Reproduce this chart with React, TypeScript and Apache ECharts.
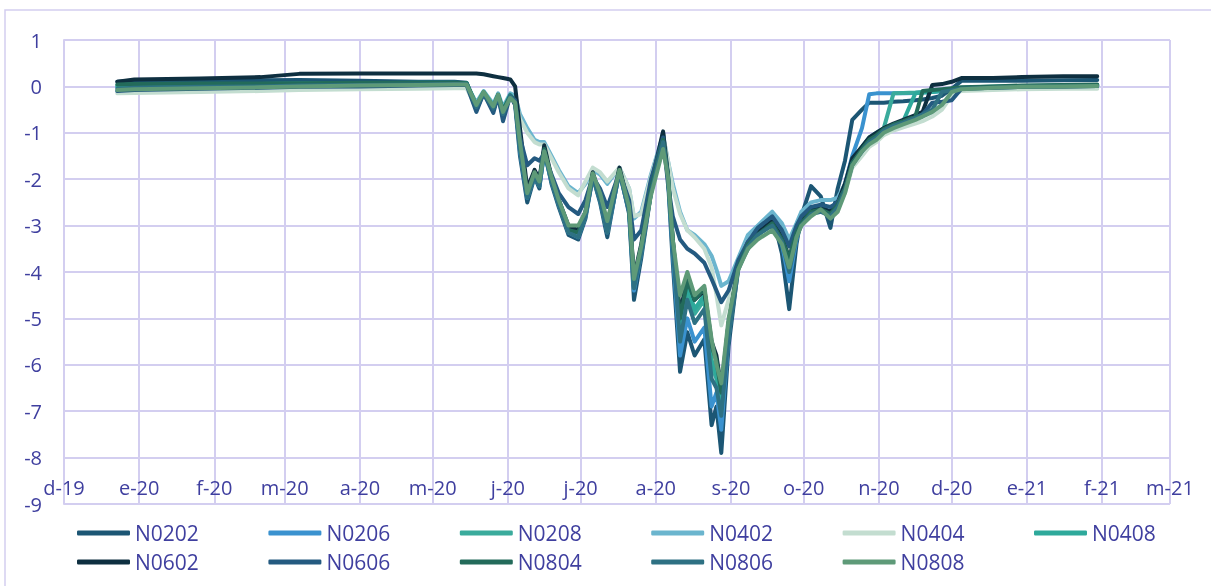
import React, { useEffect, useRef } from "react";
import * as echarts from "echarts";

const dates = [
  "2019-12-23", "2019-12-30", "2020-01-26", "2020-02-20", "2020-03-07", "2020-04-01", "2020-04-25", "2020-05-10", "2020-05-15",
  "2020-05-19", "2020-05-22", "2020-05-26", "2020-05-28", "2020-05-30", "2020-06-02", "2020-06-04", "2020-06-06", "2020-06-09", "2020-06-12", "2020-06-14",
  "2020-06-16", "2020-06-19", "2020-06-22", "2020-06-26", "2020-06-30", "2020-07-03", "2020-07-06", "2020-07-09", "2020-07-12", "2020-07-17",
  "2020-07-21", "2020-07-23", "2020-07-26", "2020-07-30", "2020-08-04", "2020-08-06", "2020-08-08", "2020-08-11", "2020-08-14", "2020-08-17",
  "2020-08-21", "2020-08-24", "2020-08-26", "2020-08-28", "2020-08-31", "2020-09-04", "2020-09-08", "2020-09-12", "2020-09-18", "2020-09-22",
  "2020-09-25", "2020-09-28", "2020-09-30", "2020-10-04", "2020-10-08", "2020-10-12", "2020-10-15", "2020-10-18", "2020-10-21", "2020-10-25",
  "2020-10-28", "2020-10-31", "2020-11-03", "2020-11-07", "2020-11-11", "2020-11-16", "2020-11-19", "2020-11-23", "2020-11-27", "2020-12-01",
  "2020-12-05", "2020-12-18", "2020-12-30", "2021-01-16", "2021-01-30",
];

const N0202 = [
  0.1, 0.12, 0.12, 0.13, 0.14, 0.12, 0.1, 0.1, 0.08,
  -0.5, -0.15, -0.5, -0.25, -0.65, -0.2, -0.4, -1.5, -2.5, -1.95, -2.2,
  -1.35, -2.1, -2.6, -3.2, -3.3, -2.85, -1.95, -2.5, -3.25, -1.8,
  -2.75, -4.6, -3.7, -2.3, -1.0, -2.0, -3.8, -6.15, -5.3, -5.8,
  -5.45, -7.3, -6.9, -7.9, -5.6, -3.9, -3.5, -3.2, -2.75, -3.6,
  -4.8, -3.4, -2.8, -2.15, -2.37, -3.05, -2.2, -1.6, -0.72, -0.5,
  -0.35, -0.35, -0.35, -0.33, -0.32, -0.3, -0.28, -0.25, -0.2, -0.05,
  0.12, 0.12, 0.12, 0.13, 0.14,
];
const N0206 = [
  -0.02, 0.0, 0.02, 0.03, 0.04, 0.05, 0.05, 0.05, 0.05,
  -0.45, -0.15, -0.45, -0.2, -0.55, -0.2, -0.35, -1.4, -2.4, -1.95, -2.15,
  -1.45, -2.05, -2.55, -3.15, -3.25, -2.8, -1.95, -2.45, -3.15, -1.85,
  -2.7, -4.4, -3.6, -2.2, -1.1, -1.95, -3.6, -5.8, -5.0, -5.5,
  -5.2, -6.9, -6.6, -7.4, -5.4, -3.8, -3.45, -3.15, -2.9, -3.4,
  -4.2, -3.3, -2.9, -2.6, -2.6, -2.7, -2.5, -2.1, -1.5, -0.9,
  -0.17, -0.15, -0.15, -0.15, -0.15, -0.14, -0.13, -0.12, -0.1, -0.06,
  -0.04, -0.02, 0.0, 0.01, 0.02,
];
const N0208 = [
  0.0, 0.02, 0.03, 0.04, 0.05, 0.06, 0.07, 0.07, 0.06,
  -0.4, -0.12, -0.42, -0.18, -0.5, -0.18, -0.32, -1.25, -2.3, -1.85, -2.05,
  -1.4, -2.0, -2.5, -3.1, -3.15, -2.75, -1.9, -2.4, -3.05, -1.8,
  -2.65, -4.3, -3.5, -2.3, -1.2, -1.9, -3.4, -5.3, -4.4, -4.9,
  -4.6, -6.0, -6.3, -7.0, -5.2, -3.9, -3.4, -3.15, -2.95, -3.3,
  -3.9, -3.2, -2.95, -2.7, -2.65, -2.75, -2.55, -2.15, -1.6, -1.3,
  -1.1, -1.0, -0.9, -0.15, -0.14, -0.13, -0.12, -0.1, -0.08, -0.05,
  -0.03, 0.0, 0.01, 0.02, 0.03,
];
const N0402 = [
  -0.1, -0.08, -0.05, -0.03, 0.0, 0.02, 0.03, 0.04, 0.04,
  -0.35, -0.1, -0.38, -0.15, -0.45, -0.15, -0.2, -0.6, -0.9, -1.15, -1.2,
  -1.2, -1.5, -1.8, -2.15, -2.3, -2.1, -1.8, -1.9, -2.1, -1.75,
  -2.2, -2.85, -2.7, -1.9, -1.05, -1.6, -2.1, -2.7, -3.1, -3.2,
  -3.4, -3.65, -3.95, -4.3, -4.2, -3.7, -3.2, -3.0, -2.7, -2.95,
  -3.3, -2.95, -2.7, -2.5, -2.45, -2.45, -2.4, -2.1, -1.6, -1.35,
  -1.2, -1.1, -0.97, -0.88, -0.8, -0.7, -0.65, -0.55, -0.4, -0.15,
  -0.05, -0.02, 0.0, 0.01, 0.02,
];
const N0404 = [
  -0.15, -0.14, -0.12, -0.1, -0.08, -0.06, -0.05, -0.04, -0.04,
  -0.45, -0.15, -0.45, -0.2, -0.5, -0.2, -0.25, -0.7, -1.0, -1.2, -1.25,
  -1.25, -1.55, -1.85, -2.2, -2.35, -2.05, -1.75, -1.85, -2.05, -1.75,
  -2.2, -2.8, -2.75, -1.95, -1.1, -1.6, -2.2, -2.75, -3.1, -3.25,
  -3.5, -3.9, -4.5, -5.15, -4.6, -3.8, -3.35, -3.15, -2.95, -3.2,
  -3.5, -3.1, -2.9, -2.75, -2.7, -2.75, -2.6, -2.3, -1.75, -1.5,
  -1.3, -1.2, -1.05, -0.95, -0.88, -0.8, -0.75, -0.65, -0.5, -0.2,
  -0.1, -0.08, -0.06, -0.05, -0.05,
];
const N0408 = [
  0.03, 0.04, 0.05, 0.05, 0.06, 0.07, 0.08, 0.08, 0.07,
  -0.4, -0.12, -0.42, -0.18, -0.5, -0.18, -0.3, -1.2, -2.25, -1.85, -2.0,
  -1.4, -1.95, -2.45, -3.05, -3.1, -2.7, -1.9, -2.35, -3.0, -1.8,
  -2.6, -4.25, -3.45, -2.3, -1.2, -1.9, -3.35, -5.2, -4.3, -4.8,
  -4.5, -5.9, -6.2, -6.9, -5.2, -3.9, -3.4, -3.2, -2.95, -3.3,
  -3.85, -3.2, -2.95, -2.7, -2.65, -2.75, -2.55, -2.2, -1.65, -1.35,
  -1.15, -1.05, -0.92, -0.83, -0.75, -0.15, -0.13, -0.12, -0.1, -0.06,
  -0.04, -0.02, 0.0, 0.02, 0.03,
];
const N0602 = [
  0.1, 0.15, 0.17, 0.2, 0.27, 0.28, 0.28, 0.28, 0.28,
  0.28, 0.26, 0.22, 0.2, 0.18, 0.15, 0.0, -0.9, -2.2, -1.8, -2.0,
  -1.27, -1.95, -2.45, -3.0, -3.1, -2.7, -1.85, -2.35, -3.0, -1.75,
  -2.6, -4.1, -3.4, -2.1, -0.97, -1.9, -3.3, -4.9, -4.1, -4.6,
  -4.4, -5.5, -5.8, -6.5, -5.1, -3.85, -3.35, -3.15, -2.9, -3.25,
  -3.7, -3.15, -2.9, -2.65, -2.6, -2.7, -2.5, -2.1, -1.55, -1.3,
  -1.1, -1.0, -0.9, -0.8, -0.72, -0.62, -0.55, 0.03, 0.05, 0.1,
  0.18, 0.18, 0.2, 0.22, 0.22,
];
const N0606 = [
  -0.1, -0.08, -0.05, -0.03, -0.01, 0.0, 0.02, 0.03, 0.03,
  -0.55, -0.15, -0.57, -0.2, -0.75, -0.2, -0.3, -1.1, -1.7, -1.55, -1.6,
  -1.45, -1.9, -2.3, -2.6, -2.75, -2.45, -1.95, -2.2, -2.6, -1.85,
  -2.45, -3.3, -3.1, -2.0, -1.1, -2.1, -2.8, -3.3, -3.5, -3.6,
  -3.8, -4.15, -4.4, -4.65, -4.4, -3.75, -3.35, -3.05, -2.8, -3.1,
  -3.45, -3.0, -2.8, -2.6, -2.55, -2.6, -2.5, -2.2, -1.65, -1.4,
  -1.2, -1.1, -0.95, -0.85, -0.78, -0.68, -0.6, -0.35, -0.33, -0.3,
  -0.05, -0.03, -0.01, 0.0, 0.01,
];
const N0804 = [
  0.04, 0.05, 0.06, 0.06, 0.07, 0.08, 0.08, 0.08, 0.07,
  -0.42, -0.13, -0.45, -0.18, -0.52, -0.2, -0.35, -1.3, -2.35, -1.9, -2.05,
  -1.35, -2.0, -2.5, -3.1, -3.15, -2.75, -1.9, -2.4, -3.05, -1.8,
  -2.65, -4.2, -3.45, -2.2, -1.15, -1.9, -3.3, -5.0, -4.2, -4.6,
  -4.35, -5.6, -5.9, -6.6, -5.1, -3.9, -3.4, -3.2, -2.95, -3.3,
  -3.7, -3.15, -2.95, -2.7, -2.65, -2.75, -2.55, -2.2, -1.65, -1.35,
  -1.15, -1.05, -0.92, -0.82, -0.75, -0.65, -0.1, -0.08, -0.06, -0.04,
  -0.02, 0.0, 0.02, 0.03, 0.04,
];
const N0806 = [
  -0.05, -0.03, -0.01, 0.0, 0.02, 0.03, 0.04, 0.05, 0.05,
  -0.45, -0.15, -0.48, -0.2, -0.6, -0.2, -0.35, -1.35, -2.4, -1.95, -2.15,
  -1.4, -2.05, -2.55, -3.15, -3.25, -2.8, -1.95, -2.45, -3.15, -1.85,
  -2.7, -4.35, -3.6, -2.3, -1.2, -1.95, -3.5, -5.5, -4.6, -5.1,
  -4.8, -6.3, -6.5, -7.1, -5.4, -3.95, -3.45, -3.2, -3.0, -3.35,
  -4.0, -3.25, -3.0, -2.75, -2.7, -2.8, -2.6, -2.25, -1.7, -1.4,
  -1.2, -1.1, -0.95, -0.85, -0.78, -0.68, -0.6, -0.5, -0.12, -0.08,
  -0.05, -0.03, -0.01, 0.0, 0.01,
];
const N0808 = [
  -0.08, -0.06, -0.04, -0.02, 0.0, 0.02, 0.03, 0.04, 0.04,
  -0.4, -0.12, -0.43, -0.18, -0.55, -0.25, -0.35, -1.2, -2.3, -1.85, -2.05,
  -1.4, -1.95, -2.45, -3.0, -3.0, -2.7, -1.87, -2.3, -2.9, -1.8,
  -2.6, -4.15, -3.45, -2.35, -1.35, -1.95, -3.3, -4.5, -4.0, -4.5,
  -4.3, -5.45, -6.0, -6.4, -5.0, -3.95, -3.5, -3.3, -3.1, -3.4,
  -3.9, -3.25, -3.0, -2.8, -2.65, -2.85, -2.7, -2.3, -1.7, -1.4,
  -1.25, -1.15, -1.0, -0.9, -0.82, -0.72, -0.65, -0.55, -0.4, -0.12,
  -0.06, -0.03, -0.01, 0.0, 0.01,
];

const seriesNames = ["N0202", "N0206", "N0208", "N0402", "N0404", "N0408", "N0602", "N0606", "N0804", "N0806", "N0808"];
const seriesValues = [N0202, N0206, N0208, N0402, N0404, N0408, N0602, N0606, N0804, N0806, N0808];
const seriesColors = ["#1C5674", "#3A92CF", "#3AAB9C", "#6BB5CE", "#C3DDD0", "#2EA99B", "#0E2F40", "#245A80", "#236B5A", "#2E7183", "#5E9A78"];

const monthLetters = ["e", "f", "m", "a", "m", "j", "j", "a", "s", "o", "n", "d"];
const xMin = "2019-12-01";
const xMax = "2021-03-01";
const yMin = -9;
const yMax = 1;

const TEXT = "#3F3F9F";
const GRID = "#D3CEF0";
const FONT = "Open Sans";

export default function App() {
  const ref = useRef<HTMLDivElement>(null);
  useEffect(() => {
    if (!ref.current) return;
    const chart = echarts.init(ref.current, null, { renderer: "svg" });
    const DAY = 86400000;
    const series = seriesNames.map((name, i) => ({
      name,
      type: "line",
      data: dates.map((d, j) => [d, seriesValues[i][j]]),
      showSymbol: false,
      symbol: "none",
      color: seriesColors[i],
      lineStyle: { width: 4, color: seriesColors[i], join: "round", cap: "round" },
      emphasis: { disabled: true },
    }));
    const legendCommon = {
      left: 77,
      width: 1130,
      orient: "horizontal",
      icon: "roundRect",
      itemWidth: 53,
      itemHeight: 5,
      itemGap: 23.4,
      padding: 0,
      selectedMode: false,
      textStyle: { color: TEXT, fontSize: 21, fontFamily: FONT, width: 110, lineHeight: 24 },
    };
    chart.setOption({
      animation: false,
      textStyle: { fontFamily: FONT },
      graphic: [
        {
          type: "rect",
          silent: true,
          shape: { x: 5, y: 10, width: 1230, height: 620 },
          style: { fill: "none", stroke: GRID, lineWidth: 1.5 },
        },
      ],
      grid: { left: 64, right: 41, top: 40, bottom: 82, containLabel: false },
      legend: [
        { ...legendCommon, top: 521, data: seriesNames.slice(0, 6) },
        { ...legendCommon, top: 550, data: seriesNames.slice(6) },
      ],
      xAxis: {
        type: "time",
        min: xMin,
        max: xMax,
        splitNumber: 15,
        minInterval: 28 * DAY,
        maxInterval: 31 * DAY,
        axisLine: { show: true, lineStyle: { color: GRID, width: 2 } },
        axisTick: { show: false },
        splitLine: { show: true, lineStyle: { color: GRID, width: 2 } },
        axisLabel: {
          inside: true,
          margin: 7,
          showMinLabel: true,
          showMaxLabel: true,
          color: TEXT,
          fontSize: 20,
          fontFamily: FONT,
          formatter: (val: number) => {
            const d = new Date(val);
            return monthLetters[d.getMonth()] + "-" + String(d.getFullYear()).slice(2);
          },
        },
      },
      yAxis: {
        type: "value",
        min: yMin,
        max: yMax,
        interval: 1,
        axisLine: { show: true, lineStyle: { color: GRID, width: 2 } },
        axisTick: { show: false },
        splitLine: { show: true, lineStyle: { color: GRID, width: 2 } },
        axisLabel: { color: TEXT, fontSize: 20, fontFamily: FONT, margin: 22 },
      },
      series,
    });
    return () => chart.dispose();
  }, []);
  return <div ref={ref} style={{ position: "fixed", left: 0, top: 0, width: 1211, height: 586 }} />;
}
